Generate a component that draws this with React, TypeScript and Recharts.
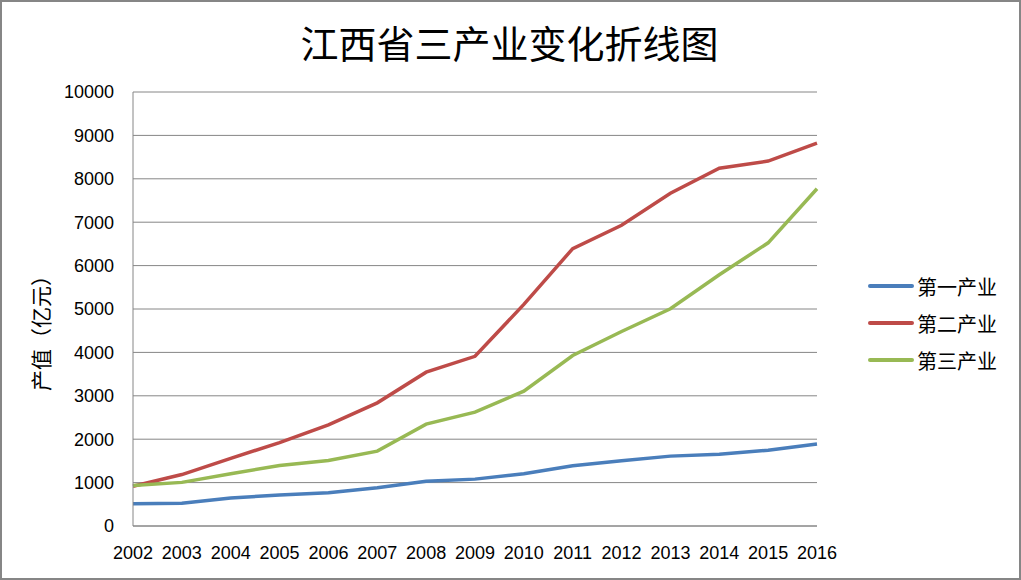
import React from 'react';
import { LineChart, Line, XAxis, YAxis, CartesianGrid } from 'recharts';

const years = ['2002', '2003', '2004', '2005', '2006', '2007', '2008', '2009', '2010', '2011', '2012', '2013', '2014', '2015', '2016'];
const primary = [510, 525, 645, 712, 765, 880, 1032, 1080, 1205, 1390, 1505, 1610, 1655, 1748, 1888];
const secondary = [915, 1185, 1560, 1922, 2330, 2838, 3545, 3910, 5105, 6392, 6930, 7668, 8244, 8408, 8820];
const tertiary = [935, 1005, 1202, 1395, 1510, 1725, 2348, 2622, 3108, 3928, 4482, 5005, 5790, 6525, 7770];
const yTicks = [0, 1000, 2000, 3000, 4000, 5000, 6000, 7000, 8000, 9000, 10000];

const title = '江西省三产业变化折线图';
const yLabel = '产值（亿元）';

const series = [
  { key: 'p', name: '第一产业', color: '#4A7EBB', values: primary },
  { key: 's', name: '第二产业', color: '#BE4B48', values: secondary },
  { key: 't', name: '第三产业', color: '#98B954', values: tertiary },
];

const data = years.map((y, i) => {
  const row: Record<string, string | number> = { year: y };
  series.forEach((s) => {
    row[s.key] = s.values[i];
  });
  return row;
});

const CJK = '"Noto Sans CJK SC", "Noto Sans", sans-serif';
const NUM = '"Liberation Sans", Arial, sans-serif';
const GRID = '#868686';

const YLabel = (props: any) => {
  const vb = props.viewBox || {};
  const cx = 40;
  const cy = vb.y + vb.height / 2 + 19;
  return (
    <text
      x={cx}
      y={cy}
      transform={`rotate(-90, ${cx}, ${cy})`}
      textAnchor="middle"
      dominantBaseline="central"
      fontFamily={CJK}
      fontSize={21}
      fill="#000"
    >
      {yLabel}
    </text>
  );
};

export default function App() {
  return (
    <div style={{ position: 'absolute', left: 0, top: 0, width: 1021, height: 580, background: '#fff' }}>
      <LineChart
        width={1021}
        height={580}
        data={data}
        margin={{ top: 92, right: 204, bottom: 24, left: 20 }}
      >
        <CartesianGrid vertical={false} stroke={GRID} strokeWidth={1} />
        <XAxis
          dataKey="year"
          type="category"
          interval={0}
          stroke={GRID}
          tickLine={false}
          tickSize={0}
          tickMargin={20}
          height={30}
          tick={{ fill: '#000', fontSize: 18, fontFamily: NUM }}
        />
        <YAxis
          type="number"
          domain={[0, 10000]}
          ticks={yTicks}
          interval={0}
          width={113}
          stroke={GRID}
          tickLine={false}
          tickSize={0}
          tickMargin={19}
          tick={{ fill: '#000', fontSize: 18, fontFamily: NUM }}
          label={<YLabel />}
        />
        {series.map((s) => (
          <Line
            key={s.key}
            type="linear"
            dataKey={s.key}
            name={s.name}
            stroke={s.color}
            strokeWidth={3.5}
            dot={false}
            activeDot={false}
            isAnimationActive={false}
          />
        ))}
      </LineChart>
      <div
        style={{
          position: 'absolute',
          left: 0,
          top: 20,
          width: 1021,
          textAlign: 'center',
          fontFamily: CJK,
          fontSize: 38,
          lineHeight: '44px',
          color: '#000',
        }}
      >
        <span style={{ position: 'relative', left: -1 }}>{title}</span>
      </div>
      <svg style={{ position: 'absolute', left: 860, top: 266 }} width={160} height={115}>
        {series.map((s, i) => (
          <g key={s.key}>
            <line x1={10} x2={52} y1={20 + i * 37} y2={20 + i * 37} stroke={s.color} strokeWidth={4} strokeLinecap="round" />
            <text x={57} y={20 + i * 37} dominantBaseline="central" fontFamily={CJK} fontSize={20} fill="#000">
              {s.name}
            </text>
          </g>
        ))}
      </svg>
      <div
        style={{
          position: 'absolute',
          left: 0,
          top: 0,
          width: 1021,
          height: 580,
          boxSizing: 'border-box',
          border: '2px solid #868686',
          pointerEvents: 'none',
        }}
      />
    </div>
  );
}
